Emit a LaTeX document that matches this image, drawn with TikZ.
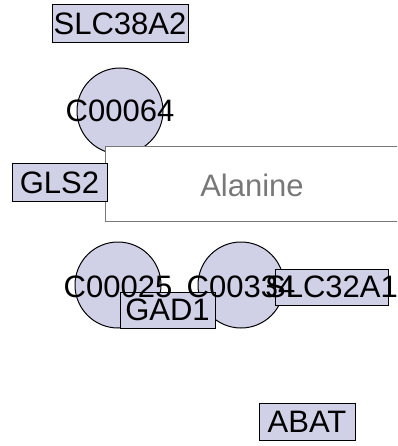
\documentclass[tikz,border=0pt]{standalone}
\usepackage{fontspec}
\setmainfont{Liberation Sans}
\definecolor{nodefill}{RGB}{208,208,230}
\definecolor{groupgray}{RGB}{120,120,120}
\tikzset{
  gene/.style={draw=black, fill=nodefill, line width=1pt, inner sep=0pt},
  metab/.style={circle, draw=black, fill=nodefill, line width=1pt,
    minimum size=86pt, inner sep=0pt},
  group/.style={draw=groupgray, fill=white, line width=1pt, inner sep=0pt},
  lbl/.style={font=\fontsize{31}{37}\selectfont, inner sep=0pt},
}
\begin{document}
\begin{tikzpicture}[x=1pt, y=-1pt]
\useasboundingbox (0,0) rectangle (397,446);
\clip (0,0) rectangle (397,446);

% metabolites
\node[metab] (c00064) at (120,111) {};
\node[metab] (c00025) at (118,285) {};
\node[metab] (c00334) at (241,285) {};

% group
\node[group, minimum width=297pt, minimum height=74pt] (alanine) at (253.5,184) {};

% genes
\node[gene, minimum width=136pt, minimum height=38pt] (slc38a2) at (120,24) {};
\node[gene, minimum width=95pt, minimum height=37pt] (gls2) at (59.5,182.5) {};
\node[gene, minimum width=95pt, minimum height=36pt] (gad1) at (167.5,310) {};
\node[gene, minimum width=113pt, minimum height=36pt] (slc32a1) at (331.5,287) {};
\node[gene, minimum width=96pt, minimum height=37pt] (abat) at (307,421.5) {};

% labels
\node[lbl] (lc00064) at (c00064) {C00064};
\node[lbl] (lc00025) at ([yshift=-2pt]c00025.center) {C00025};
\node[lbl] (lc00334) at ([yshift=-2pt]c00334.center) {C00334};
\node[lbl, text=groupgray] (lalanine) at (252,185) {Alanine};
\node[lbl] (lslc38a2) at (slc38a2) {SLC38A2};
\node[lbl] (lgls2) at (gls2) {GLS2};
\node[lbl] (lgad1) at (gad1) {GAD1};
\node[lbl] (lslc32a1) at (slc32a1) {SLC32A1};
\node[lbl] (labat) at (abat) {ABAT};
\end{tikzpicture}
\end{document}
